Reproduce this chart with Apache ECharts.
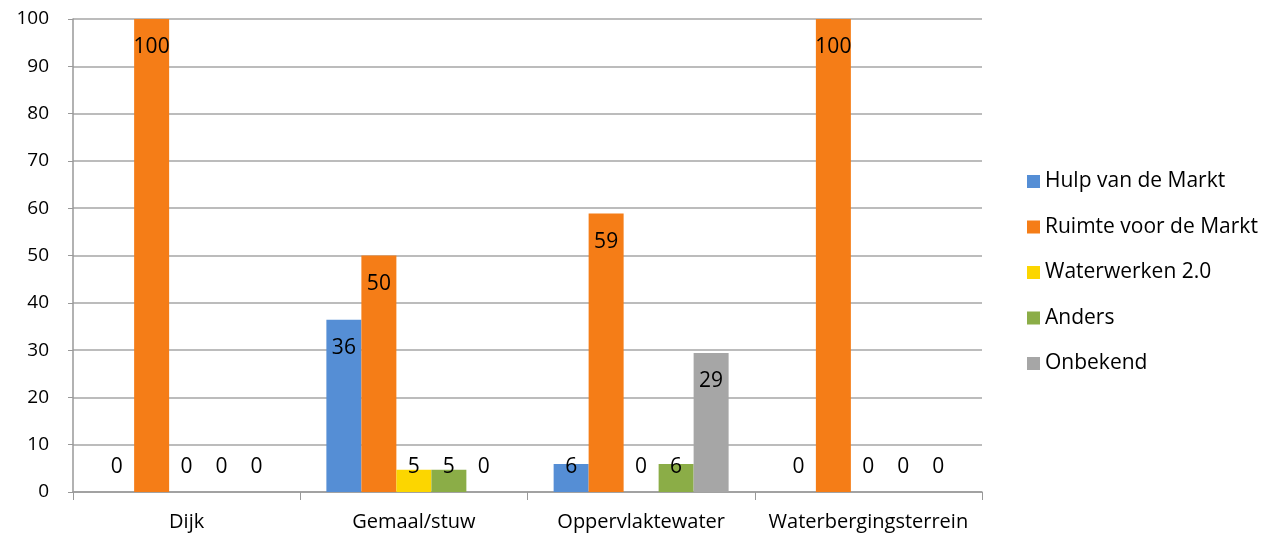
<!DOCTYPE html>
<html>
<head>
<meta http-equiv="content-type" content="text/html; charset=utf-8" />
<script src="https://cdn.jsdelivr.net/npm/echarts@6/dist/echarts.min.js"></script>
<title>demo</title>
<style type="text/css">
* {margin:0; padding:0;}
body {background:#ffffff;}
#chart {width:1279px; height:536px;}
</style>
</head>
<body>
<div id="chart"></div>
<script>
// categorieen en reeksen
var categories = ['Dijk', 'Gemaal/stuw', 'Oppervlaktewater', 'Waterbergingsterrein'];
var seriesNames = ['Hulp van de Markt', 'Ruimte voor de Markt', 'Waterwerken 2.0', 'Anders', 'Onbekend'];
var hulp = [0, 36.4, 5.9, 0];
var ruimte = [100, 50, 58.9, 100];
var waterwerken = [0, 4.7, 0, 0];
var anders = [0, 4.7, 5.9, 0];
var onbekend = [0, 0, 29.4, 0];
var yTicks = [0, 10, 20, 30, 40, 50, 60, 70, 80, 90, 100];

var colors = ['#558ed5', '#f57d17', '#fcd600', '#8bad47', '#a6a6a6'];
var allData = [hulp, ruimte, waterwerken, anders, onbekend];
var fontFam = '"Open Sans", "Noto Sans", sans-serif';

var chart = echarts.init(document.getElementById('chart'));

var series = [];
for (var s = 0; s < seriesNames.length; s++) {
	series.push({
		name: seriesNames[s],
		type: 'bar',
		barGap: '0%',
		barCategoryGap: '23%',
		itemStyle: {color: colors[s]},
		data: allData[s].map(function (v) {
			var small = v < 8;
			return {
				value: v,
				label: {
					show: true,
					position: small ? 'insideBottom' : 'insideTop',
					distance: small ? 14 : 18,
					color: '#000',
					fontSize: 21,
					fontFamily: fontFam,
					formatter: function (p) { return Math.round(p.value); }
				}
			};
		})
	});
}

chart.setOption({
	animation: false,
	color: colors,
	grid: {left: 73, right: 297, top: 19, bottom: 44},
	legend: {
		orient: 'vertical',
		left: 1022,
		top: 166,
		itemWidth: 13,
		itemHeight: 13,
		itemGap: 24.5,
		icon: 'rect',
		textStyle: {fontSize: 21, lineHeight: 21, color: '#000', fontFamily: fontFam},
		data: seriesNames
	},
	xAxis: {
		type: 'category',
		data: categories,
		axisLine: {lineStyle: {color: '#999', width: 1.5}},
		axisTick: {show: true, length: 8, alignWithLabel: false, lineStyle: {color: '#999'}},
		axisLabel: {interval: 0, fontSize: 20, color: '#000', fontFamily: fontFam, margin: 20}
	},
	yAxis: {
		type: 'value',
		min: yTicks[0],
		max: yTicks[yTicks.length - 1],
		interval: 10,
		axisLine: {show: true, lineStyle: {color: '#999', width: 1.5}},
		axisTick: {show: true, length: 5, lineStyle: {color: '#999'}},
		splitLine: {lineStyle: {color: '#a6a6a6', width: 1.5}},
		axisLabel: {fontSize: 19, color: '#000', fontFamily: fontFam, margin: 24}
	},
	series: series
});
</script>
</body>
</html>
